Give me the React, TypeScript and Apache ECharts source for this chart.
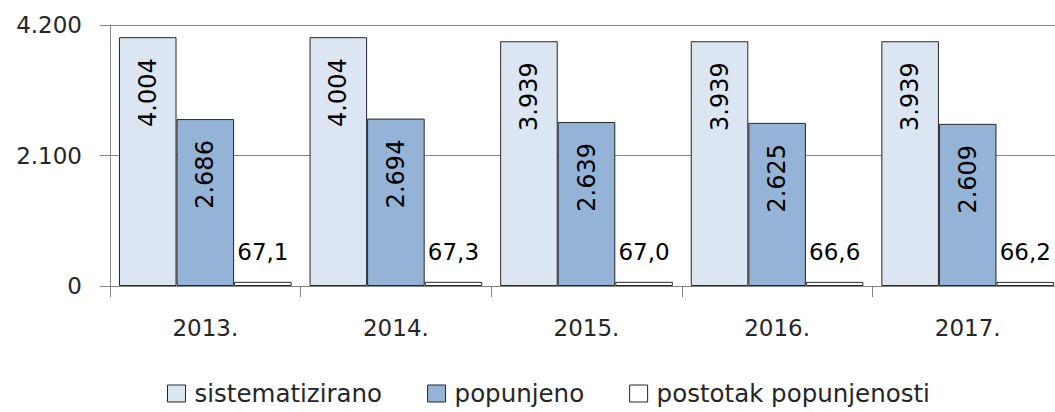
import React, { useEffect, useRef } from "react";
import * as echarts from "echarts";

const categories = ["2013.", "2014.", "2015.", "2016.", "2017."];
const sistematizirano = [4004, 4004, 3939, 3939, 3939];
const popunjeno = [2686, 2694, 2639, 2625, 2609];
const postotak = [67.1, 67.3, 67.0, 66.6, 66.2];
const seriesNames = ["sistematizirano", "popunjeno", "postotak popunjenosti"];
const yTicks = { min: 0, max: 4200, interval: 2100 };

const FONT = "DejaVu Sans";
const TXT = "#262626";

const thousands = (v: number) =>
  String(Math.round(v)).replace(/\B(?=(\d{3})+(?!\d))/g, ".");

export default function App() {
  const ref = useRef<HTMLDivElement>(null);
  useEffect(() => {
    if (!ref.current) return;
    const chart = echarts.init(ref.current, undefined, { renderer: "svg" });
    const rotLabel = {
      show: true,
      position: "insideTop",
      rotate: 90,
      align: "right",
      verticalAlign: "middle",
      distance: 21,
      fontFamily: FONT,
      fontSize: 24,
      color: "#000",
      formatter: (p: any) => thousands(p.value),
    };
    chart.setOption({
      animation: false,
      textStyle: { fontFamily: FONT },
      grid: { left: 110, right: 0, top: 25, bottom: 126 },
      legend: {
        bottom: 1,
        left: 162,
        icon: "rect",
        itemWidth: 18,
        itemHeight: 17,
        itemGap: 45,
        itemStyle: { borderColor: "#262626", borderWidth: 1 },
        textStyle: {
          fontFamily: FONT,
          fontSize: 24.5,
          color: TXT,
          padding: [0, 0, 0, 4],
        },
        data: seriesNames,
      },
      xAxis: {
        type: "category",
        data: categories,
        axisLine: { show: true, lineStyle: { color: "#868686", width: 1 } },
        axisTick: { show: true, length: 11, lineStyle: { color: "#868686" } },
        axisLabel: { margin: 30, fontFamily: FONT, fontSize: 23, color: TXT },
      },
      yAxis: {
        type: "value",
        min: yTicks.min,
        max: yTicks.max,
        interval: yTicks.interval,
        axisLine: { show: true, lineStyle: { color: "#868686", width: 1 } },
        axisTick: { show: true, length: 10, lineStyle: { color: "#868686" } },
        splitLine: { show: true, lineStyle: { color: "#868686", width: 1 } },
        axisLabel: {
          margin: 28,
          fontFamily: FONT,
          fontSize: 23,
          color: TXT,
          formatter: (v: number) => thousands(v),
        },
      },
      series: [
        {
          name: seriesNames[0],
          type: "bar",
          data: sistematizirano,
          barGap: "0%",
          barCategoryGap: "9.4%",
          itemStyle: { color: "#dce6f2", borderColor: "#262626", borderWidth: 1 },
          label: rotLabel,
        },
        {
          name: seriesNames[1],
          type: "bar",
          data: popunjeno,
          barGap: "0%",
          barCategoryGap: "9.4%",
          itemStyle: { color: "#95b3d7", borderColor: "#262626", borderWidth: 1 },
          label: rotLabel,
        },
        {
          name: seriesNames[2],
          type: "bar",
          data: postotak,
          barGap: "0%",
          barCategoryGap: "9.4%",
          itemStyle: { color: "#ffffff", borderColor: "#262626", borderWidth: 1 },
          label: {
            show: true,
            position: "top",
            distance: 18,
            fontFamily: FONT,
            fontSize: 23,
            color: "#000",
            formatter: (p: any) => p.value.toFixed(1).replace(".", ","),
          },
        },
      ],
    });
    return () => chart.dispose();
  }, []);
  return (
    <div
      style={{
        position: "fixed",
        left: 0,
        top: 0,
        width: 1055,
        height: 412,
        overflow: "hidden",
        background: "#fff",
      }}
    >
      <div ref={ref} style={{ width: 1063, height: 412 }} />
    </div>
  );
}
